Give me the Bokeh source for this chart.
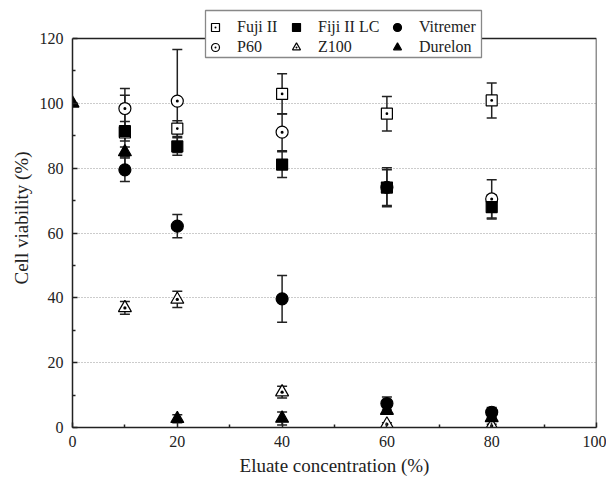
from bokeh.plotting import figure
from bokeh.models import (ColumnDataSource, Whisker, TeeHead, Legend, LegendItem,
                          FixedTicker, Range1d, BoxAnnotation)
from bokeh.embed import file_html
from bokeh.resources import INLINE

conc = [10, 20, 40, 60, 80]
conc_durelon = [0, 10, 20, 40, 60, 80]
fuji_ii = [91.0, 92.2, 102.9, 96.8, 100.9]
fuji_ii_err = [11.5, 2.4, 6.2, 5.3, 5.4]
p60 = [98.4, 100.7, 91.1, 74.1, 70.5]
p60_err = [6.2, 15.9, 5.7, 6.0, 5.9]
fiji_lc = [91.4, 86.7, 81.1, 74.0, 68.0]
fiji_lc_err = [3.0, 2.7, 4.0, 5.5, 3.7]
z100 = [36.9, 39.5, 10.9, 1.0, 0.5]
z100_err = [2.0, 2.5, 1.8, 0.5, 0.5]
vitremer = [79.5, 62.1, 39.7, 7.4, 4.7]
vitremer_err = [3.6, 3.6, 7.2, 2.0, 1.5]
durelon = [100, 85.0, 2.7, 2.8, 5.2, 3.0]
durelon_err = [0, 1.5, 1.2, 2.0, 1.0, 1.0]

x_ticks = [0, 20, 40, 60, 80, 100]
y_ticks = [0, 20, 40, 60, 80, 100, 120]

FONT = "Liberation Serif"
X_MAX = x_ticks[-1]
Y_MAX = y_ticks[-1]

# frame spans canvas px 8..427 vertically; the 0..120 box ends at px 38
TOP, BOX_TOP, BOTTOM = 8, 38, 427
p = figure(width=606, height=480, output_backend="svg", toolbar_location=None,
           x_range=Range1d(0, X_MAX),
           y_range=Range1d(0, Y_MAX * (BOTTOM - TOP) / (BOTTOM - BOX_TOP)),
           min_border_left=72, min_border_right=10, min_border_top=TOP,
           min_border_bottom=480 - BOTTOM)
p.outline_line_color = None

for ax in (p.xaxis[0], p.yaxis[0]):
    ax.axis_line_width = 1.5
    ax.axis_line_color = "#222222"
    ax.major_tick_in = 5
    ax.major_tick_out = 0
    ax.minor_tick_in = 3
    ax.minor_tick_out = 0
    ax.major_tick_line_width = 1.5
    ax.minor_tick_line_width = 1.5
    ax.major_tick_line_color = "#222222"
    ax.minor_tick_line_color = "#222222"
    ax.major_label_text_font = FONT
    ax.major_label_text_font_size = "16px"
    ax.major_label_text_color = "#222222"
    ax.axis_label_text_font = FONT
    ax.axis_label_text_font_size = "19px"
    ax.axis_label_text_font_style = "normal"
    ax.axis_label_text_color = "#222222"

p.yaxis[0].bounds = (0, Y_MAX)
p.xaxis.ticker = FixedTicker(ticks=x_ticks, minor_ticks=[10, 30, 50, 70, 90])
p.yaxis.ticker = FixedTicker(ticks=y_ticks, minor_ticks=[10, 30, 50, 70, 90, 110])
p.xaxis.axis_label = "Eluate concentration (%)"
p.yaxis.axis_label = "Cell viability (%)"
p.xaxis.major_label_standoff = 8
p.xaxis.axis_label_standoff = 5
p.yaxis.major_label_standoff = 9
p.yaxis.axis_label_standoff = 5

p.xgrid.visible = False
p.ygrid.ticker = FixedTicker(ticks=[20, 40, 60, 80, 100])
p.ygrid.grid_line_color = "#999999"
p.ygrid.grid_line_dash = "1 2"
p.ygrid.grid_line_width = 1

# top and right frame lines of the 0..100 x 0..120 box
p.line([0, X_MAX, X_MAX], [Y_MAX, Y_MAX, 0], line_color="#222222", line_width=1.5)

series = [
    ("Fuji II", conc, fuji_ii, fuji_ii_err, "square_dot", "white", 11),
    ("P60", conc, p60, p60_err, "circle_dot", "white", 12),
    ("Fiji II LC", conc, fiji_lc, fiji_lc_err, "square", "black", 11),
    ("Z100", conc, z100, z100_err, "triangle_dot", "white", 13),
    ("Vitremer", conc, vitremer, vitremer_err, "circle", "black", 12),
    ("Durelon", conc_durelon, durelon, durelon_err, "triangle", "black", 13),
]

sources = []
for name, xs, vals, errs, marker, fill, size in series:
    src = ColumnDataSource(dict(x=xs, y=vals,
                                lo=[v - e for v, e in zip(vals, errs)],
                                hi=[v + e for v, e in zip(vals, errs)]))
    sources.append(src)
    w = Whisker(base="x", upper="hi", lower="lo", source=src,
                line_color="#222222", line_width=1.5,
                upper_head=TeeHead(size=10, line_width=1.5, line_color="#222222"),
                lower_head=TeeHead(size=10, line_width=1.5, line_color="#222222"))
    p.add_layout(w)

renderers = {}
for (name, xs, vals, errs, marker, fill, size), src in zip(series, sources):
    r = p.scatter("x", "y", source=src, marker=marker, size=size,
                  fill_color=fill, line_color="black", line_width=1.2)
    renderers[name] = r

# legend box (canvas pixels)
box = BoxAnnotation(left=205, right=481, top=10, bottom=57,
                    left_units="canvas", right_units="canvas",
                    top_units="canvas", bottom_units="canvas",
                    fill_color="white", fill_alpha=1.0,
                    line_color="#888888", line_width=1.3, line_alpha=1.0)
p.add_layout(box)

columns = [["Fuji II", "P60"], ["Fiji II LC", "Z100"], ["Vitremer", "Durelon"]]
col_x = [131, 212, 313]
for names, lx in zip(columns, col_x):
    lg = Legend(items=[LegendItem(label=n, renderers=[renderers[n]]) for n in names],
                location=(lx, 370), orientation="vertical",
                label_text_font=FONT, label_text_font_size="16px", label_text_color="#222222",
                border_line_color=None, background_fill_alpha=0.0,
                glyph_width=24, glyph_height=20, label_standoff=10,
                spacing=0, padding=0, margin=0, label_height=18)
    p.add_layout(lg, "center")

open("out.html", "w").write(file_html(p, INLINE))
